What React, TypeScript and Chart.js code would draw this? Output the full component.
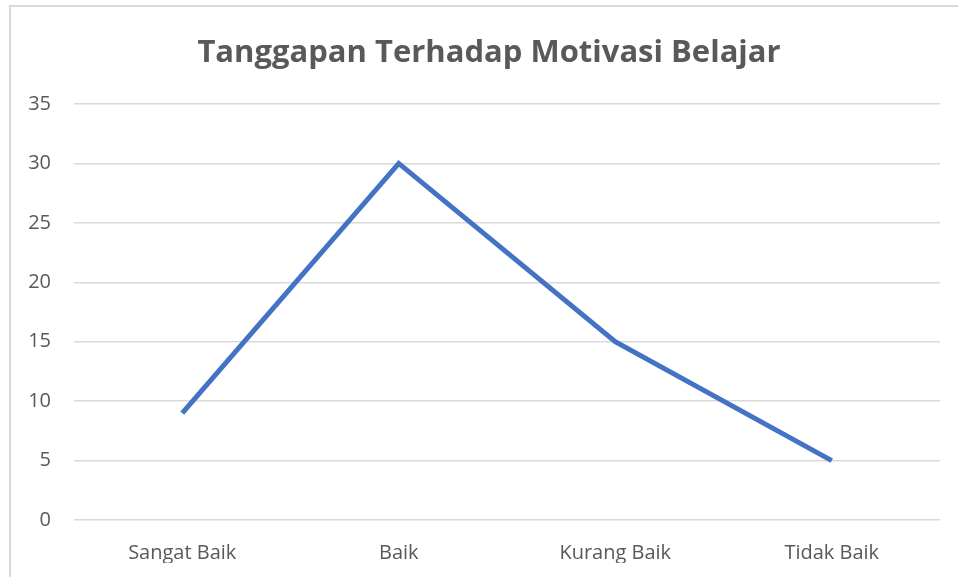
import React, { useEffect, useRef } from "react";
import { Chart, registerables } from "chart.js";

Chart.register(...registerables);

const titleText = "Tanggapan Terhadap Motivasi Belajar";
const categories = ["Sangat Baik", "Baik", "Kurang Baik", "Tidak Baik"];
const values = [9, 30, 15, 5];
const yMin = 0;
const yMax = 35;
const yStep = 5;

const FONT = "'Open Sans', 'Liberation Sans', sans-serif";
const TEXT_COLOR = "#595959";

const titlePlugin = {
  id: "excelTitle",
  afterDraw(chart: any) {
    const ctx = chart.ctx;
    ctx.save();
    ctx.fillStyle = TEXT_COLOR;
    ctx.font = `bold 31px ${FONT}`;
    ctx.textAlign = "center";
    ctx.textBaseline = "alphabetic";
    ctx.fillText(titleText, 489, 62);
    ctx.restore();
  },
};

export default function App() {
  const canvasRef = useRef<HTMLCanvasElement | null>(null);

  useEffect(() => {
    const canvas = canvasRef.current;
    if (!canvas) return;
    const chart = new Chart(canvas, {
      type: "line",
      data: {
        labels: categories,
        datasets: [
          {
            data: values,
            borderColor: "#4472C4",
            backgroundColor: "#4472C4",
            borderWidth: 5,
            pointRadius: 0,
            pointHoverRadius: 0,
            tension: 0,
            fill: false,
          },
        ],
      },
      plugins: [titlePlugin],
      options: {
        animation: false,
        responsive: false,
        maintainAspectRatio: false,
        layout: { padding: { left: 0, right: 18, top: 104, bottom: 14 } },
        plugins: {
          legend: { display: false },
          tooltip: { enabled: false },
          title: { display: false },
        },
        scales: {
          x: {
            offset: true,
            grid: { display: false, drawTicks: false },
            border: { display: false },
            ticks: {
              color: TEXT_COLOR,
              font: { family: FONT, size: 20 },
              padding: 21,
              maxRotation: 0,
            },
            afterFit: (scale: any) => {
              scale.height = 43;
            },
          },
          y: {
            min: yMin,
            max: yMax,
            grid: { color: "#d9d9d9", lineWidth: 1.5, drawTicks: false },
            border: { display: false },
            ticks: {
              stepSize: yStep,
              color: TEXT_COLOR,
              font: { family: FONT, size: 20 },
              padding: 23,
            },
            afterFit: (scale: any) => {
              scale.width = 74;
            },
          },
        },
      },
    });
    return () => chart.destroy();
  }, []);

  return (
    <div
      style={{
        position: "fixed",
        left: 0,
        top: 0,
        width: 958,
        height: 577,
        background: "#ffffff",
        overflow: "hidden",
      }}
    >
      <div
        style={{
          position: "absolute",
          left: 9,
          top: 5,
          width: 1000,
          height: 700,
          border: "2px solid #d9d9d9",
          boxSizing: "border-box",
        }}
      />
      <canvas
        ref={canvasRef}
        width={958}
        height={577}
        style={{ position: "absolute", left: 0, top: 0, width: 958, height: 577 }}
      />
    </div>
  );
}
